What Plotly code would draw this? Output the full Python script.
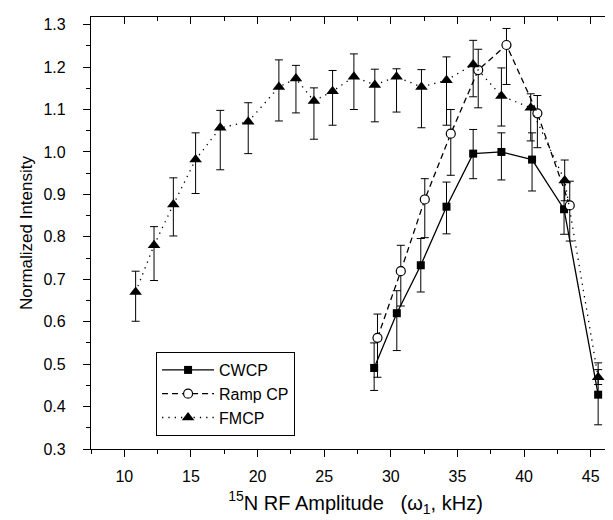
import plotly.graph_objects as go

# ---- data ----
fm_x = [10.85, 12.23, 13.68, 15.35, 17.2, 19.3, 21.6, 22.88, 24.23, 25.63,
        27.23, 28.8, 30.43, 32.3, 34.18, 36.18, 38.3, 40.5, 43.05, 45.56]
fm_y = [0.670, 0.780, 0.876, 0.982, 1.057, 1.071, 1.153, 1.173, 1.120, 1.143,
        1.177, 1.158, 1.177, 1.153, 1.169, 1.206, 1.132, 1.104, 0.933, 0.469]
fm_ep = [0.049, 0.044, 0.063, 0.063, 0.041, 0.045, 0.064, 0.031, 0.031, 0.049,
         0.054, 0.037, 0.019, 0.041, 0.055, 0.057, 0.066, 0.033, 0.048, 0.034]
fm_em = [0.069, 0.083, 0.074, 0.080, 0.099, 0.075, 0.080, 0.081, 0.090, 0.080,
         0.077, 0.087, 0.083, 0.096, 0.106, 0.076, 0.071, 0.078, 0.048, 0.017]

cw_x = [28.75, 30.45, 32.25, 34.18, 36.18, 38.3, 40.6, 43.0, 45.56]
cw_y = [0.491, 0.620, 0.733, 0.871, 0.996, 1.000, 0.982, 0.865, 0.428]
cw_ep = [0.059, 0.053, 0.063, 0.058, 0.057, 0.045, 0.063, 0.065, 0.059]
cw_em = [0.053, 0.088, 0.063, 0.064, 0.059, 0.066, 0.074, 0.059, 0.071]

rp_x = [29.0, 30.75, 32.55, 34.5, 36.56, 38.68, 41.0, 43.43]
rp_y = [0.562, 0.719, 0.888, 1.043, 1.193, 1.252, 1.091, 0.874]
rp_ep = [0.056, 0.061, 0.049, 0.057, 0.049, 0.039, 0.042, 0.057]
rp_em = [0.093, 0.082, 0.090, 0.098, 0.089, 0.093, 0.081, 0.084]

x_range = [7.5, 47.2]
y_range = [0.3, 1.318]
x_ticks = [10, 15, 20, 25, 30, 35, 40, 45]
y_ticks = [0.3, 0.4, 0.5, 0.6, 0.7, 0.8, 0.9, 1.0, 1.1, 1.2, 1.3]
y_ticklabels = ["0.3", "0.4", "0.5", "0.6", "0.7", "0.8", "0.9", "1.0", "1.1", "1.2", "1.3"]

FONT = "Liberation Sans, Arial, sans-serif"


def err(p, m):
    return dict(type="data", symmetric=False, array=p, arrayminus=m,
                color="black", thickness=1, width=4)


fig = go.Figure()
fig.add_trace(go.Scatter(
    x=cw_x, y=cw_y, name="CWCP", mode="lines+markers",
    line=dict(color="black", width=1.3, dash="solid"),
    marker=dict(symbol="square", size=8, color="black"),
    error_y=err(cw_ep, cw_em)))
fig.add_trace(go.Scatter(
    x=rp_x, y=rp_y, name="Ramp CP", mode="lines+markers",
    line=dict(color="black", width=1.3, dash="6px,4px"),
    marker=dict(symbol="circle", size=9, color="white",
                line=dict(color="black", width=1.2)),
    error_y=err(rp_ep, rp_em)))
fig.add_trace(go.Scatter(
    x=fm_x, y=fm_y, name="FMCP", mode="lines+markers",
    line=dict(color="black", width=1.3, dash="1.3px,5px"),
    marker=dict(symbol="triangle-up", size=11, color="black"),
    error_y=err(fm_ep, fm_em)))
# invisible trace to activate mirrored axes
fig.add_trace(go.Scatter(x=[None], y=[None], xaxis="x2", yaxis="y2",
                         showlegend=False, hoverinfo="skip", mode="markers"))

axis_common = dict(showline=True, linecolor="black", linewidth=1.3,
                   showgrid=False, zeroline=False, tickcolor="black",
                   tickwidth=1.3, ticklen=7)
tick_font = dict(family=FONT, size=16, color="black")

fig.update_layout(
    width=613, height=520,
    margin=dict(l=83, r=1, t=9, b=79),
    paper_bgcolor="white", plot_bgcolor="white",
    font=dict(family=FONT, color="black"),
    xaxis=dict(range=x_range, tickvals=x_ticks, ticks="outside",
               tickfont=tick_font, ticklabelstandoff=6,
               minor=dict(dtick=2.5, tick0=0, ticks="outside", ticklen=4,
                          tickcolor="black", tickwidth=1.3),
               title=dict(text="<sup>15</sup>N RF Amplitude\u00a0\u00a0\u00a0(\u03c9<sub>1</sub>, kHz)",
                          font=dict(family=FONT, size=20, color="black"),
                          standoff=11),
               **axis_common),
    yaxis=dict(range=y_range, tickvals=y_ticks, ticktext=y_ticklabels,
               ticks="outside", tickfont=tick_font, ticklabelstandoff=14,
               minor=dict(dtick=0.05, tick0=0, ticks="outside", ticklen=4,
                          tickcolor="black", tickwidth=1.3),
               title=dict(text="Normalized Intensity",
                          font=dict(family=FONT, size=17, color="black"),
                          standoff=6),
               **axis_common),
    xaxis2=dict(range=x_range, overlaying="x", side="top", anchor="y",
                tickvals=x_ticks, ticks="inside", showticklabels=False,
                minor=dict(dtick=2.5, tick0=0, ticks="inside", ticklen=4,
                           tickcolor="black", tickwidth=1.3),
                **axis_common),
    yaxis2=dict(range=y_range, overlaying="y", side="right", anchor="x",
                tickvals=y_ticks, ticks="inside", showticklabels=False,
                minor=dict(dtick=0.05, tick0=0, ticks="inside", ticklen=4,
                           tickcolor="black", tickwidth=1.3),
                **axis_common),
    legend=dict(x=0.123, y=0.2245, xanchor="left", yanchor="top",
                bordercolor="black", borderwidth=1, bgcolor="white",
                font=dict(family=FONT, size=16, color="black"),
                tracegroupgap=0, itemwidth=52),
    showlegend=True,
)

fig.write_html("out.html")
